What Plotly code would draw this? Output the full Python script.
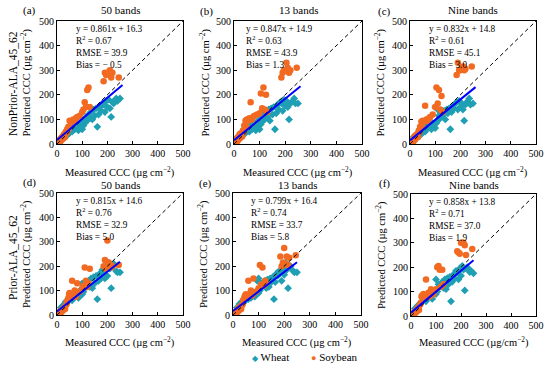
import plotly.graph_objects as go

# ---------------- data ----------------
panel_labels = ["(a)", "(b)", "(c)", "(d)", "(e)", "(f)"]
panel_titles = ["50 bands", "13 bands", "Nine bands", "50 bands", "13 bands", "Nine bands"]
row_labels = ["NonPrior-ALA_45_62", "Prior-ALA_45_62"]
legend_names = ["Wheat", "Soybean"]

slopes = [0.861, 0.847, 0.832, 0.815, 0.799, 0.858]
intercepts = [16.3, 14.9, 14.8, 14.6, 16.4, 13.8]
r2 = ["0.67", "0.63", "0.61", "0.76", "0.74", "0.71"]
rmse = ["39.9", "43.9", "45.1", "32.9", "33.7", "37.0"]
bias = ["\u2212 0.5", "1.3", "3.0", "5.0", "5.8", "1.9"]
fit_xmax = [260, 260, 260, 250, 250, 250]

wheat_meas = [15, 20, 25, 30, 35, 40, 45, 50, 55, 60, 65, 70, 75, 80, 85, 90, 95, 100, 100, 105,
              110, 110, 115, 120, 125, 130, 135, 140, 145, 150, 155, 160, 165, 170, 175, 180, 185, 190,
              195, 200, 205, 210, 215, 220, 225, 235, 240, 250]
wheat_a = [25, 20, 35, 30, 45, 35, 50, 45, 60, 50, 70, 60, 75, 65, 55, 80, 70, 60, 95, 75,
           100, 85, 110, 95, 120, 105, 130, 100, 140, 115, 145, 70, 120, 150, 135, 165, 160, 130,
           175, 150, 180, 145, 110, 170, 165, 185, 175, 185]
wheat_b = [30, 25, 40, 35, 50, 40, 45, 55, 65, 50, 75, 60, 80, 70, 55, 90, 75, 60, 100, 80,
           110, 90, 120, 100, 130, 110, 140, 95, 145, 120, 150, 60, 125, 160, 140, 170, 165, 135,
           180, 155, 175, 150, 100, 165, 170, 185, 165, 165]
wheat_c = [30, 25, 35, 40, 50, 45, 40, 55, 60, 50, 75, 65, 80, 70, 60, 85, 80, 65, 150, 85,
           140, 95, 115, 105, 125, 115, 135, 100, 140, 125, 145, 60, 130, 155, 145, 165, 170, 140,
           175, 150, 165, 140, 95, 160, 170, 185, 160, 165]
wheat_d = [30, 25, 40, 45, 55, 50, 60, 65, 70, 60, 85, 75, 90, 80, 70, 100, 90, 85, 130, 95,
           135, 110, 125, 120, 140, 115, 150, 110, 155, 130, 160, 65, 140, 170, 150, 185, 175, 150,
           200, 160, 215, 190, 110, 200, 210, 180, 175, 175]
wheat_e = [30, 25, 45, 40, 55, 50, 65, 60, 75, 65, 85, 70, 90, 85, 75, 95, 140, 90, 150, 100,
           130, 115, 120, 125, 140, 110, 145, 115, 150, 135, 155, 65, 135, 170, 160, 180, 175, 140,
           190, 165, 215, 185, 110, 195, 200, 180, 175, 175]
wheat_f = [30, 25, 40, 45, 50, 55, 60, 65, 70, 60, 85, 75, 90, 80, 70, 100, 95, 90, 150, 100,
           130, 115, 125, 120, 140, 115, 150, 110, 155, 130, 160, 60, 140, 170, 155, 185, 180, 150,
           195, 165, 205, 190, 105, 195, 200, 180, 185, 175]

soy_meas = [3, 5, 8, 10, 12, 14, 15, 18, 20, 22, 25, 28, 30, 32, 35, 38, 40, 42, 45, 48,
            50, 55, 60, 65, 70, 75, 80, 90, 100, 105, 110, 115, 120, 125, 130, 185, 190, 195,
            200, 205, 210, 215, 220, 245]
soy_a = [5, 2, 10, 15, 8, 20, 12, 25, 18, 30, 22, 40, 35, 28, 50, 45, 60, 55, 70, 65,
         95, 90, 95, 100, 90, 105, 110, 115, 130, 140, 170, 150, 220, 230, 150, 255, 290, 280,
         290, 285, 300, 270, 290, 270]
soy_b = [5, 3, 12, 18, 10, 25, 15, 30, 20, 40, 25, 45, 38, 30, 55, 50, 75, 60, 95, 70,
         100, 95, 105, 170, 100, 110, 115, 120, 125, 205, 145, 230, 140, 200, 130, 270, 290, 300,
         300, 330, 310, 290, 300, 310]
soy_c = [5, 3, 10, 15, 8, 20, 12, 30, 18, 35, 25, 40, 35, 28, 55, 50, 70, 60, 90, 70,
         95, 90, 155, 100, 95, 105, 110, 120, 150, 230, 165, 220, 140, 195, 130, 280, 330, 300,
         300, 310, 315, 300, 305, 315]
soy_d = [5, 2, 8, 12, 6, 15, 10, 20, 15, 25, 20, 30, 30, 25, 40, 45, 55, 60, 70, 85,
         90, 75, 140, 80, 100, 75, 130, 95, 110, 120, 195, 140, 115, 130, 190, 200, 225, 190,
         305, 215, 210, 195, 200, 205]
soy_e = [5, 2, 8, 12, 6, 15, 10, 20, 15, 30, 20, 35, 30, 25, 40, 45, 60, 65, 75, 80,
         85, 75, 140, 85, 100, 80, 150, 95, 110, 205, 125, 195, 120, 140, 130, 240, 200, 215,
         275, 210, 240, 205, 235, 245]
soy_f = [5, 2, 8, 12, 6, 15, 10, 20, 15, 25, 20, 35, 30, 25, 45, 50, 55, 80, 85, 80,
         90, 80, 150, 85, 95, 80, 110, 90, 110, 200, 205, 190, 120, 190, 130, 265, 260, 255,
         300, 300, 300, 290, 250, 275]

wheat_pred = [wheat_a, wheat_b, wheat_c, wheat_d, wheat_e, wheat_f]
soy_pred = [soy_a, soy_b, soy_c, soy_d, soy_e, soy_f]

ticks = [0, 100, 200, 300, 400, 500]
x_titles = ["Measured CCC (\u00b5g cm<sup>\u22122</sup>)"] * 5 + ["Measured CCC (\u00b5g/cm<sup>\u22122</sup>)"]
y_title = "Predicted CCC (\u00b5g cm<sup>\u22122</sup>)"

# ---------------- layout geometry (pixels) ----------------
W, H = 550, 366
FONT = "Liberation Serif, Times New Roman, serif"
WHEAT_C = "#1f9fb3"
SOY_C = "#f26a21"

px_x = [(57, 183), (234, 362), (410, 536), (57, 183), (233, 361), (411, 536)]
px_y = [(21, 144), (21, 144), (21, 144), (193, 315), (193, 315), (194, 316)]
label_pos = [(29, 10), (206, 11), (384, 11), (29, 182), (205, 183), (384, 183)]
ytitle_x = [26, 205, 380, 26, 203, 381]
xtitle_y = [172, 172, 172, 342, 342, 342]
stats_dx = [17, 10, 17, 17, 16, 16]


def fx(p):
    return p / W


def fy(p):
    return 1 - p / H


def txt(text, x, y, size, **kw):
    d = dict(text=text, x=fx(x), y=fy(y), xref="paper", yref="paper", showarrow=False,
             xanchor="center", yanchor="middle", font=dict(family=FONT, size=size, color="black"))
    d.update(kw)
    return d


fig = go.Figure()
ann = []
layout_axes = {}

for i in range(6):
    n = "" if i == 0 else str(i + 1)
    xa, ya = "x" + n, "y" + n
    fig.add_trace(go.Scatter(x=wheat_meas, y=wheat_pred[i], mode="markers", xaxis=xa, yaxis=ya,
                             name=legend_names[0], showlegend=False,
                             marker=dict(symbol="diamond", size=6, color=WHEAT_C)))
    fig.add_trace(go.Scatter(x=soy_meas, y=soy_pred[i], mode="markers", xaxis=xa, yaxis=ya,
                             name=legend_names[1], showlegend=False,
                             marker=dict(symbol="circle", size=6.5, color=SOY_C)))
    fig.add_trace(go.Scatter(x=[0, 500], y=[0, 500], mode="lines", xaxis=xa, yaxis=ya,
                             showlegend=False, line=dict(color="black", width=1, dash="4px,3px")))
    fx0, fx1 = 0, fit_xmax[i]
    fig.add_trace(go.Scatter(x=[fx0, fx1], y=[slopes[i] * fx0 + intercepts[i], slopes[i] * fx1 + intercepts[i]],
                             mode="lines", xaxis=xa, yaxis=ya, showlegend=False,
                             line=dict(color="#0000ff", width=2)))

    axcommon = dict(range=[0, 500], tickvals=ticks, showline=True, linecolor="black", linewidth=1.2,
                    mirror=True, ticks="inside", ticklen=3, tickcolor="black", showgrid=False,
                    zeroline=False, tickfont=dict(family=FONT, size=10, color="black"), fixedrange=True)
    layout_axes["xaxis" + n] = dict(axcommon, domain=[fx(px_x[i][0]), fx(px_x[i][1])], anchor=ya)
    layout_axes["yaxis" + n] = dict(axcommon, domain=[fy(px_y[i][1]), fy(px_y[i][0])], anchor=xa)

    cx = (px_x[i][0] + px_x[i][1]) / 2
    ty = 10 if i < 3 else 185
    ann.append(txt(panel_titles[i], cx, ty, 11))
    ann.append(txt(panel_labels[i], label_pos[i][0], label_pos[i][1], 11))
    cy = (px_y[i][0] + px_y[i][1]) / 2
    ann.append(txt(y_title, ytitle_x[i], cy, 10.5, textangle=-90))
    ann.append(txt(x_titles[i], cx, xtitle_y[i], 10.5))
    stats = ("y = %.3fx + %.1f<br>R<sup>2</sup> = %s<br>RMSE = %s<br>Bias = %s"
             % (slopes[i], intercepts[i], r2[i], rmse[i], bias[i]))
    ann.append(txt(stats, px_x[i][0] + stats_dx[i], px_y[i][0] + 1, 9.3,
                   xanchor="left", yanchor="top", align="left"))

for j, lbl in enumerate(row_labels):
    cy = 84 if j == 0 else 258
    ann.append(txt(lbl, 13, cy, 11.5, textangle=-90))

# legend drawn as text with coloured glyphs
ann.append(txt("<span style='color:%s;font-size:8px'>\u25c6</span> %s" % (WHEAT_C, legend_names[0]),
               250, 357, 11, xanchor="left"))
ann.append(txt("<span style='color:%s;font-size:9px'>\u25cf</span> %s" % (SOY_C, legend_names[1]),
               309, 357, 11, xanchor="left"))

fig.update_layout(
    width=W, height=H, margin=dict(l=0, r=0, t=0, b=0, autoexpand=False),
    paper_bgcolor="white", plot_bgcolor="white",
    annotations=ann, showlegend=False,
    **layout_axes,
)

fig.write_html("out.html", config={"displayModeBar": False},
               post_script="document.body.style.margin='0';document.body.style.overflow='hidden';")
